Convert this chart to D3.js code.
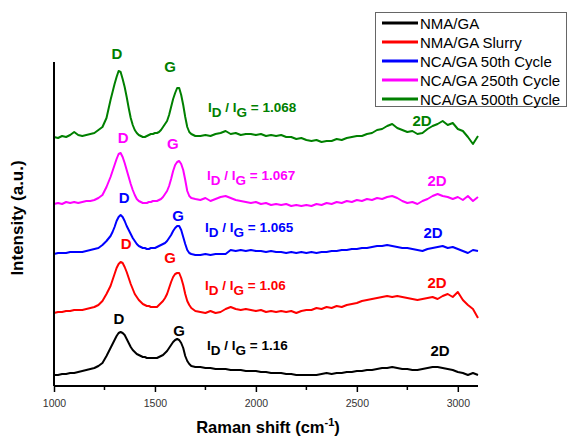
<!DOCTYPE html>
<html>
<head>
<meta charset="utf-8">
<script src="https://cdn.jsdelivr.net/npm/d3@7"></script>
<style>
  html, body { margin: 0; padding: 0; background: #fff; }
  svg { display: block; }
  text { font-family: Arial, "Liberation Sans", Helvetica, sans-serif; }
</style>
</head>
<body>
<svg id="chart" width="568" height="439"></svg>
<script>
// Raman shift sample positions (cm^-1)
const wavenumber = [
  1000,1020,1040,1060,1080,1100,1120,1140,1160,1180,1200,1220,1240,1260,1280,
  1290,1300,1310,1320,1330,1340,1350,1360,1370,1380,
  1390,1400,1410,1420,1430,1440,1450,1460,1470,1480,
  1490,1500,1510,1520,1530,1540,1550,1560,1570,1580,
  1590,1600,1610,1620,1630,1640,1650,1660,1670,1680,
  1700,
  1725,1750,1775,1800,1825,1850,1875,1900,1925,1950,
  1975,2000,2025,2050,2075,2100,2125,2150,2175,2200,
  2225,2250,2275,2300,2325,2350,2375,2400,2425,2450,
  2475,2500,2525,2550,2575,2600,2625,2650,2675,2700,
  2725,2750,2775,2800,2825,2850,2875,2900,2925,2950,
  2975,3000,3025,3050,3075,3100
];

// Stacked intensities (a.u.), one value per wavenumber
const nmaGA = [
  11,11,12,12,13,13,14,15,16,17,18,20,23,30,38,
  42,46,50,53,54,53,51,47,43,39,
  36,34,32,31,30,29,29,28,28,28,
  28,28,28,29,30,31,33,35,38,41,
  44,46,47,46,43,38,30,25,22,20,
  19,
  19,18,18,17,17,17,16,16,16,15,
  15,15,14,14,13,13,13,12,12,11,
  11,11,11,11,12,13,12,13,13,14,
  14,15,15,16,16,17,18,18,19,18,
  17,17,16,16,17,18,19,19,18,17,
  16,14,13,11,13,11
];
const nmaGASlurry = [
  73,74,74,75,75,76,76,76,77,78,79,81,85,92,100,
  106,112,118,122,124,123,119,114,108,102,
  97,92,89,86,84,82,81,80,80,79,
  79,79,79,81,83,85,88,92,98,104,
  109,112,113,113,108,101,92,85,81,78,
  75,
  74,73,75,73,74,77,79,77,76,77,
  76,75,76,74,75,74,75,74,75,73,
  75,76,76,78,77,79,78,80,79,81,
  82,83,85,86,87,88,89,90,89,90,
  89,88,87,86,87,88,89,87,90,92,
  89,94,86,81,77,68
];
const ncaGA50 = [
  132,133,133,133,134,134,134,134,135,136,137,138,141,145,150,
  154,159,165,169,171,169,165,160,156,152,
  148,145,142,140,139,138,138,137,137,138,
  138,138,139,140,141,142,143,145,148,151,
  155,158,160,160,156,149,142,136,133,132,
  131,
  131,132,131,132,132,132,136,135,136,135,
  136,135,135,134,135,134,134,133,134,133,
  134,133,134,133,134,134,135,135,136,136,
  137,137,138,138,139,140,140,141,140,139,
  138,138,137,136,135,137,138,139,140,138,
  139,137,135,133,136,135
];
const ncaGA250 = [
  182,183,182,184,183,184,183,184,185,185,186,188,191,199,209,
  215,221,227,232,233,229,223,216,209,202,
  196,191,187,185,184,183,183,183,184,184,
  185,185,185,186,187,189,192,195,200,207,
  215,221,224,225,222,216,206,195,190,188,
  187,
  186,188,185,187,189,190,188,186,185,184,
  183,184,182,183,181,182,181,182,180,181,
  180,181,180,182,181,183,182,184,183,185,
  184,186,185,187,186,188,187,189,190,188,
  185,183,184,182,185,187,190,192,190,189,
  187,189,186,190,185,189
];
const ncaGA500 = [
  249,248,250,249,251,254,251,250,251,252,253,256,259,268,286,
  294,302,309,315,314,307,299,289,278,268,
  261,256,253,251,250,249,249,250,251,252,
  252,253,253,254,256,259,262,265,271,279,
  287,293,298,298,291,281,269,259,254,252,
  250,
  250,251,250,252,253,255,252,253,251,252,
  252,251,252,250,251,250,251,249,249,247,
  248,246,245,246,244,245,245,247,246,248,
  249,250,250,252,253,256,257,260,262,258,
  256,254,255,252,253,257,260,262,265,261,
  263,257,255,249,242,250
];

const seriesNames = ["NMA/GA", "NMA/GA Slurry", "NCA/GA 50th Cycle", "NCA/GA 250th Cycle", "NCA/GA 500th Cycle"];
const seriesColors = ["#000000", "#ff0000", "#0000ff", "#ff00ff", "#008000"];
const seriesValues = [nmaGA, nmaGASlurry, ncaGA50, ncaGA250, ncaGA500];
const ratioLabels = ["1.16", "1.06", "1.065", "1.067", "1.068"];

const xTicks = [1000, 1500, 2000, 2500, 3000];
const xMinorTicks = [1250, 1750, 2250, 2750];

// Band labels placed in data coordinates [cm^-1, a.u.]
const bandD     = [[1322, 68], [1357, 143], [1347, 189], [1342, 249], [1312, 333]];
const bandG     = [[1619, 56], [1575, 129], [1614, 171], [1589, 243], [1575, 320]];
const bandRatio = [[1758, 41], [1748, 101], [1748, 159], [1758, 211], [1763, 279]];
const band2D    = [[2912, 36], [2897, 104], [2877, 154], [2897, 206], [2823, 266]];

const svg = d3.select("#chart");
const x = d3.scaleLinear().domain([1000, 3100]).range([54, 478]);
const y = d3.scaleLinear().domain([0, 324]).range([386, 62]);

// spectra
const line = d3.line()
  .x((d, i) => x(wavenumber[i]))
  .y(d => y(d))
  .curve(d3.curveLinear);

svg.append("g").selectAll("path")
  .data(seriesValues)
  .join("path")
  .attr("d", d => line(d))
  .attr("fill", "none")
  .attr("stroke", (d, i) => seriesColors[i])
  .attr("stroke-width", 2)
  .attr("stroke-linejoin", "round");

// axes
const xAxis = svg.append("g").attr("transform", "translate(0,386)");
xAxis.call(d3.axisBottom(x).tickValues(xTicks).tickSize(6).tickFormat(d3.format("d")))
  .call(g => g.select(".domain").attr("stroke-width", 2).attr("d", "M54,0H478"))
  .call(g => g.selectAll(".tick line").attr("stroke-width", 1.5))
  .call(g => g.selectAll(".tick text")
    .attr("font-size", 10.5).attr("fill", "#333").attr("dy", "1.15em")
    .attr("font-family", "Arial, 'Liberation Sans', sans-serif"));
xAxis.append("g").selectAll("line")
  .data(xMinorTicks).join("line")
  .attr("x1", d => x(d)).attr("x2", d => x(d))
  .attr("y1", 0).attr("y2", 4)
  .attr("stroke", "#000").attr("stroke-width", 1.5);

svg.append("line")
  .attr("x1", x(1000)).attr("x2", x(1000))
  .attr("y1", y(324)).attr("y2", y(0))
  .attr("stroke", "#000").attr("stroke-width", 2);

// axis titles
const xTitle = svg.append("text")
  .attr("x", 268).attr("y", 433)
  .attr("text-anchor", "middle")
  .attr("font-size", 16.5).attr("font-weight", "bold");
xTitle.append("tspan").text("Raman shift (cm");
xTitle.append("tspan").attr("font-size", 11).attr("dy", -7).text("-1");
xTitle.append("tspan").attr("dy", 7).text(")");

svg.append("text")
  .attr("transform", "translate(23,218) rotate(-90)")
  .attr("text-anchor", "middle")
  .attr("font-size", 17).attr("font-weight", "bold")
  .text("Intensity (a.u.)");

// band annotations
const ann = svg.append("g").attr("font-weight", "bold");
seriesColors.forEach((c, i) => {
  ann.append("text").attr("x", x(bandD[i][0])).attr("y", y(bandD[i][1]))
    .attr("text-anchor", "middle").attr("dominant-baseline", "central")
    .attr("font-size", 15).attr("fill", c).text("D");
  ann.append("text").attr("x", x(bandG[i][0])).attr("y", y(bandG[i][1]))
    .attr("text-anchor", "middle").attr("dominant-baseline", "central")
    .attr("font-size", 15).attr("fill", c).text("G");
  ann.append("text").attr("x", x(band2D[i][0])).attr("y", y(band2D[i][1]))
    .attr("text-anchor", "middle").attr("dominant-baseline", "central")
    .attr("font-size", 15).attr("fill", c).text("2D");
  const r = ann.append("text").attr("x", x(bandRatio[i][0])).attr("y", y(bandRatio[i][1]) + 4.5)
    .attr("font-size", 13.5).attr("fill", c);
  r.append("tspan").text("I");
  r.append("tspan").attr("dy", 5).text("D");
  r.append("tspan").attr("dy", -5).text(" / I");
  r.append("tspan").attr("dy", 5).text("G");
  r.append("tspan").attr("dy", -5).text(" = " + ratioLabels[i]);
});

// legend
const legend = svg.append("g");
legend.append("rect")
  .attr("x", 375.5).attr("y", 12.5).attr("width", 191).attr("height", 94)
  .attr("fill", "#fff").attr("stroke", "#666").attr("stroke-width", 1);
seriesNames.forEach((name, i) => {
  const ly = 23 + i * 19;
  legend.append("line").attr("x1", 382).attr("x2", 418).attr("y1", ly).attr("y2", ly)
    .attr("stroke", seriesColors[i]).attr("stroke-width", 3);
  legend.append("text").attr("x", 420).attr("y", ly).attr("dominant-baseline", "central")
    .attr("font-size", 15).attr("fill", "#000").text(name);
});
</script>
</body>
</html>
